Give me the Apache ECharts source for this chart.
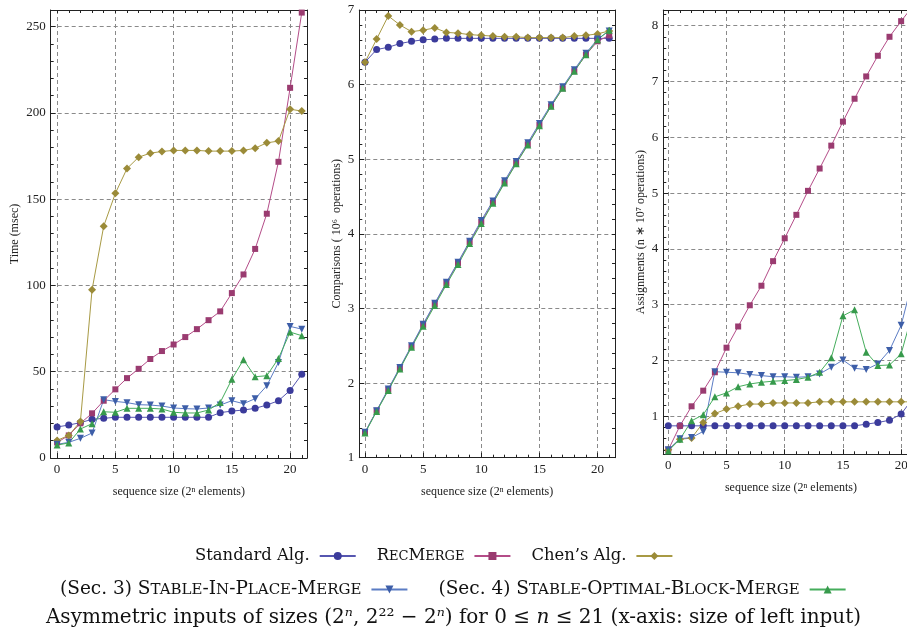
<!DOCTYPE html>
<html>
<head>
<meta charset="utf-8">
<script src="https://cdn.jsdelivr.net/npm/echarts@6/dist/echarts.min.js"></script>
<style>
  html, body { margin: 0; padding: 0; background: #fff; }
  #chart { width: 907px; height: 631px; }
</style>
</head>
<body>
<div id="chart"></div>
<script>
// x = n, input sizes (2^n, 2^22 - 2^n)
const nValues = [0,1,2,3,4,5,6,7,8,9,10,11,12,13,14,15,16,17,18,19,20,21]
const xTickLabels = [0, 5, 10, 15, 20]

// panel 1 : Time (msec)
const timeStandard = [18.0,19.1,20.5,22.4,23.0,23.6,23.6,23.6,23.6,23.6,23.6,23.6,23.6,23.6,26.3,27.2,27.8,28.8,30.7,33.2,39.2,48.5]
const timeRec = [9.0,13.1,20.1,25.9,33.2,39.8,46.3,51.7,57.4,62.0,65.8,70.1,74.7,79.9,85.0,95.6,106.4,121.2,141.6,171.7,214.6,258.2]
const timeChen = [10.2,13.1,21.2,97.5,134.4,153.4,167.8,174.4,176.7,177.7,178.3,178.3,178.3,177.9,177.9,177.9,178.3,179.6,182.7,183.7,202.2,201.1]
const timeInPlace = [7.9,9.1,11.4,14.5,33.8,32.8,32.1,30.9,30.7,30.1,29.0,28.6,28.4,29.0,30.7,33.2,31.5,34.4,41.9,55.4,76.3,74.7]
const timeOptimal = [7.5,8.7,16.8,19.9,26.8,26.5,28.8,28.8,28.8,28.4,26.5,26.1,26.1,27.8,32.2,45.6,57.0,47.1,47.7,57.7,73.0,70.9]
const timeTicks = [0, 50, 100, 150, 200, 250]

// panel 2 : Comparisons
const cmpStandard = [6.30,6.47,6.50,6.55,6.58,6.60,6.61,6.62,6.62,6.62,6.62,6.62,6.62,6.62,6.62,6.62,6.62,6.62,6.62,6.62,6.62,6.62]
const cmpRec = [1.34,1.63,1.91,2.20,2.49,2.78,3.06,3.34,3.61,3.89,4.16,4.42,4.69,4.95,5.20,5.46,5.71,5.95,6.18,6.40,6.58,6.66]
const cmpChen = [6.30,6.61,6.92,6.80,6.71,6.73,6.76,6.70,6.69,6.67,6.66,6.65,6.64,6.64,6.63,6.63,6.63,6.63,6.65,6.66,6.68,6.72]
const cmpInPlace = [1.34,1.63,1.92,2.21,2.50,2.79,3.07,3.35,3.62,3.90,4.18,4.44,4.71,4.97,5.22,5.48,5.73,5.97,6.20,6.42,6.61,6.72]
const cmpOptimal = [1.33,1.62,1.90,2.19,2.48,2.76,3.04,3.32,3.59,3.87,4.14,4.41,4.68,4.94,5.19,5.45,5.71,5.95,6.18,6.40,6.60,6.73]
const cmpTicks = [1, 2, 3, 4, 5, 6, 7]

// panel 3 : Assignments
const asgStandard = [0.83,0.83,0.83,0.83,0.83,0.83,0.83,0.83,0.83,0.83,0.83,0.83,0.83,0.83,0.83,0.83,0.83,0.86,0.89,0.93,1.04,1.32]
const asgRec = [0.40,0.83,1.18,1.46,1.79,2.23,2.61,2.99,3.34,3.78,4.19,4.61,5.04,5.44,5.85,6.28,6.69,7.09,7.46,7.80,8.08,8.35]
const asgChen = [0.40,0.59,0.61,0.89,1.05,1.13,1.18,1.22,1.22,1.24,1.24,1.24,1.24,1.26,1.26,1.26,1.26,1.26,1.26,1.26,1.26,1.26]
const asgInPlace = [0.40,0.60,0.62,0.73,1.80,1.79,1.78,1.75,1.73,1.71,1.71,1.70,1.71,1.76,1.88,2.01,1.86,1.84,1.94,2.18,2.63,3.45]
const asgOptimal = [0.38,0.59,0.92,1.03,1.35,1.42,1.53,1.58,1.61,1.63,1.64,1.66,1.70,1.79,2.05,2.80,2.91,2.15,1.91,1.92,2.12,2.87]
const asgTicks = [1, 2, 3, 4, 5, 6, 7, 8]

const seriesNames = ['Standard Alg.', 'RecMerge', "Chen's Alg.",
  '(Sec. 3) Stable-In-Place-Merge', '(Sec. 4) Stable-Optimal-Block-Merge']

const styles = [
  { symbol: 'circle', size: 7, color: '#3b3b9b', line: '#5656b0' },
  { symbol: 'rect', size: 6, color: '#9a3b70', line: '#b44c88' },
  { symbol: 'diamond', size: 8, color: '#9b8b38', line: '#a89a44' },
  { symbol: 'triangle', size: 7, color: '#3d5ea8', line: '#5b7cc4', rotate: 180 },
  { symbol: 'triangle', size: 7, color: '#379a4c', line: '#45ad5c' }
]

const panels = [
  { left: 50.7, width: 256.3, top: 10, height: 448, xMin: -0.55, xMax: 21.45,
    yMin: 0, yMax: 259.7, yTicks: timeTicks, minorStep: 10, name: 'Time (msec)', nameGap: 30,
    data: [timeStandard, timeRec, timeChen, timeInPlace, timeOptimal] },
  { left: 359.3, width: 255.7, top: 10, height: 447.7, xMin: -0.49, xMax: 21.5,
    yMin: 1, yMax: 7, yTicks: cmpTicks, minorStep: 0.2, name: 'Comparisons ( 10\u2076  operations)', nameGap: 16,
    data: [cmpStandard, cmpRec, cmpChen, cmpInPlace, cmpOptimal] },
  { left: 663.3, width: 255.3, top: 10, height: 444.3, xMin: -0.43, xMax: 21.5,
    yMin: 0.32, yMax: 8.28, yTicks: asgTicks, minorStep: 0.2, name: 'Assignments (n \u2217 10\u2077 operations)', nameGap: 16,
    data: [asgStandard, asgRec, asgChen, asgInPlace, asgOptimal] }
]

const steps = (from, to, step) => {
  const out = []
  for (let v = Math.ceil(from / step - 1e-9) * step; v <= to + 1e-9; v += step) {
    out.push(Math.round(v * 1000) / 1000)
  }
  return out
}

const axisFont = { fontFamily: 'Liberation Serif', fontSize: 13, color: '#222' }
const splitStyle = { show: true, lineStyle: { color: '#8a8a8a', type: [4, 3], width: 1 } }
const frameLine = { show: true, onZero: false, lineStyle: { color: '#222', width: 1 } }
const noLine = { show: false, onZero: false }

const grid = []
const xAxis = []
const yAxis = []
const series = []

panels.forEach((p, gi) => {
  grid.push({ left: p.left, top: p.top, width: p.width, height: p.height, outerBoundsMode: 'none' })
  const xi = xAxis.length
  const yi = yAxis.length

  // main bottom x axis
  xAxis.push({
    gridIndex: gi, type: 'value', position: 'bottom', min: p.xMin, max: p.xMax,
    axisLine: frameLine,
    axisTick: { show: true, inside: true, length: 5, customValues: xTickLabels, lineStyle: { color: '#222' } },
    axisLabel: { customValues: xTickLabels, margin: 5, ...axisFont },
    splitLine: splitStyle,
    name: 'sequence size (2\u207f elements)', nameLocation: 'middle', nameGap: 28,
    nameTextStyle: { fontFamily: 'Liberation Serif', fontSize: 12, color: '#222' }
  })
  // minor bottom ticks
  xAxis.push({
    gridIndex: gi, type: 'value', position: 'bottom', min: p.xMin, max: p.xMax,
    axisLine: noLine,
    axisTick: { show: true, inside: true, length: 3, customValues: nValues, lineStyle: { color: '#222' } },
    axisLabel: { show: false }, splitLine: { show: false }
  })
  // top frame
  xAxis.push({
    gridIndex: gi, type: 'value', position: 'top', min: p.xMin, max: p.xMax,
    axisLine: frameLine,
    axisTick: { show: true, inside: true, length: 3, customValues: nValues, lineStyle: { color: '#222' } },
    axisLabel: { show: false }, splitLine: { show: false }
  })

  const minor = steps(p.yMin, p.yMax, p.minorStep)
  yAxis.push({
    gridIndex: gi, type: 'value', position: 'left', min: p.yMin, max: p.yMax,
    axisLine: frameLine,
    axisTick: { show: true, inside: true, length: 5, customValues: p.yTicks, lineStyle: { color: '#222' } },
    axisLabel: { customValues: p.yTicks, margin: 5, ...axisFont },
    splitLine: splitStyle,
    name: p.name, nameLocation: 'middle', nameGap: p.nameGap, nameRotate: 90,
    nameTextStyle: { fontFamily: 'Liberation Serif', fontSize: 12, color: '#222' }
  })
  yAxis.push({
    gridIndex: gi, type: 'value', position: 'left', min: p.yMin, max: p.yMax,
    axisLine: noLine,
    axisTick: { show: true, inside: true, length: 3, customValues: minor, lineStyle: { color: '#222' } },
    axisLabel: { show: false }, splitLine: { show: false }
  })
  yAxis.push({
    gridIndex: gi, type: 'value', position: 'right', min: p.yMin, max: p.yMax,
    axisLine: frameLine,
    axisTick: { show: true, inside: true, length: 3, customValues: minor, lineStyle: { color: '#222' } },
    axisLabel: { show: false }, splitLine: { show: false }
  })

  p.data.forEach((vals, si) => {
    const s = styles[si]
    series.push({
      name: seriesNames[si],
      type: 'line',
      xAxisIndex: xi,
      yAxisIndex: yi,
      data: vals.map((v, i) => [nValues[i], v]),
      symbol: s.symbol,
      symbolSize: s.size,
      symbolRotate: s.rotate || 0,
      showAllSymbol: true,
      clip: true,
      animation: false,
      itemStyle: { color: s.color },
      lineStyle: { color: s.line, width: 1 }
    })
  })
})

const makeRich = (big, small) => ({
  t: { fontFamily: 'DejaVu Serif', fontSize: big, fontWeight: 'normal', color: '#111', verticalAlign: 'bottom' },
  c: { fontFamily: 'DejaVu Serif', fontSize: big, fontWeight: 'normal', color: '#111', verticalAlign: 'bottom' },
  s: { fontFamily: 'DejaVu Serif', fontSize: small, fontWeight: 'normal', color: '#111', verticalAlign: 'bottom', padding: [0, 0, 1, 0] },
  i: { fontFamily: 'DejaVu Serif', fontStyle: 'italic', fontSize: big, fontWeight: 'normal', color: '#111', verticalAlign: 'bottom' }
})

const legendText = {
  'Standard Alg.': '{t|Standard Alg.}',
  'RecMerge': '{c|R}{s|EC}{c|M}{s|ERGE}',
  "Chen's Alg.": '{t|Chen\u2019s Alg.}',
  '(Sec. 3) Stable-In-Place-Merge': '{t|(Sec. 3) }{c|S}{s|TABLE}{c|-I}{s|N}{c|-P}{s|LACE}{c|-M}{s|ERGE}',
  '(Sec. 4) Stable-Optimal-Block-Merge': '{t|(Sec. 4) }{c|S}{s|TABLE}{c|-O}{s|PTIMAL}{c|-B}{s|LOCK}{c|-M}{s|ERGE}'
}

const legendBase = {
  align: 'right',
  itemWidth: 36,
  itemHeight: 10,
  selectedMode: false,
  padding: 0,
  formatter: name => legendText[name]
}

const option = {
  backgroundColor: '#fff',
  animation: false,
  title: {
    text: '{t|Asymmetric inputs of sizes (2}{i|\u207f}{t|, 2\u00b2\u00b2 \u2212 2}{i|\u207f}{t|) for 0 \u2264 }{i|n}{t| \u2264 21 (x-axis: size of left input)}',
    left: 'center',
    top: 603,
    textStyle: { fontWeight: 'normal', rich: makeRich(20, 15) }
  },
  legend: [
    { ...legendBase, left: 195, top: 548, width: 700, itemGap: 20, data: seriesNames.slice(0, 3),
      textStyle: { fontFamily: 'DejaVu Serif', fontSize: 16.4, color: '#111', padding: [0, 5, 0, 0], rich: makeRich(16.4, 13) } },
    { ...legendBase, left: 60, top: 580, width: 880, itemGap: 30, data: seriesNames.slice(3),
      textStyle: { fontFamily: 'DejaVu Serif', fontSize: 18.5, color: '#111', padding: [0, 5, 0, 0], rich: makeRich(18.5, 15) } }
  ],
  grid,
  xAxis,
  yAxis,
  series
}

const chart = echarts.init(document.getElementById('chart'))
chart.setOption(option)
</script>
</body>
</html>
